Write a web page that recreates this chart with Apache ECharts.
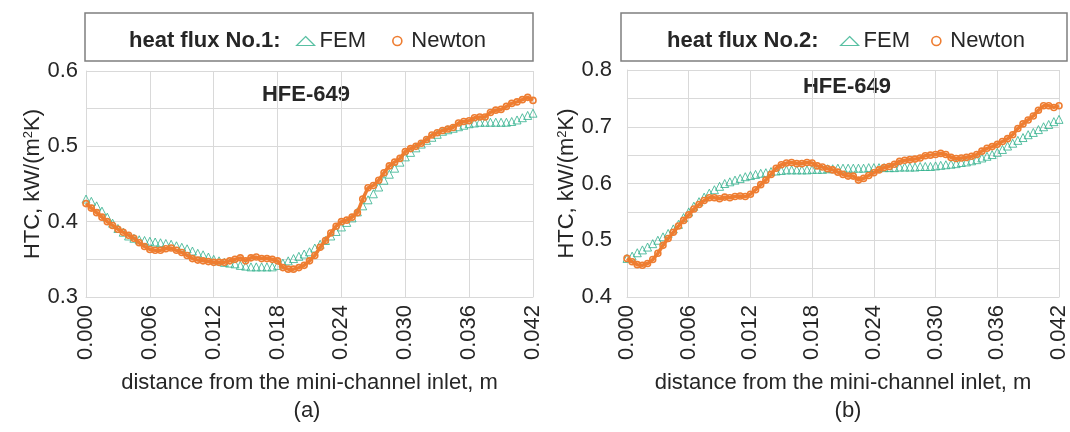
<!DOCTYPE html>
<html><head><meta charset="utf-8">
<script src="https://cdn.jsdelivr.net/npm/echarts@6/dist/echarts.min.js"></script>
<style>html,body{margin:0;padding:0;background:#fff}#c{width:1070px;height:432px}</style>
</head><body><div id="c"></div>
<script>
// sampling step along the channel (m)
const xStep = 0.0005;
const xTicks = { min: 0, max: 0.042, interval: 0.006 };
const categories = ['FEM', 'Newton'];
const panelLabels = ['(a)', '(b)'];
const legendTitles = ['heat flux No.1:', 'heat flux No.2:'];
const fluidLabel = 'HFE-649';

const fem1 = [0.430,0.427,0.421,0.414,0.406,0.398,0.391,0.386,0.381,0.378,
0.376,0.375,0.374,0.373,0.372,0.371,0.370,0.368,0.366,0.364,
0.361,0.358,0.356,0.353,0.350,0.348,0.346,0.345,0.344,0.342,
0.341,0.340,0.340,0.340,0.340,0.340,0.342,0.345,0.348,0.351,
0.354,0.357,0.360,0.365,0.370,0.375,0.381,0.387,0.393,0.399,
0.405,0.413,0.421,0.429,0.437,0.446,0.455,0.463,0.471,0.479,
0.486,0.492,0.498,0.503,0.508,0.512,0.516,0.520,0.522,0.524,
0.526,0.528,0.530,0.531,0.532,0.532,0.532,0.532,0.532,0.532,
0.533,0.535,0.538,0.541,0.544];
const newton1 = [0.424,0.418,0.412,0.406,0.400,0.395,0.390,0.386,0.382,0.378,
0.372,0.367,0.363,0.362,0.362,0.364,0.365,0.362,0.359,0.355,
0.351,0.349,0.348,0.347,0.346,0.346,0.346,0.348,0.350,0.352,
0.348,0.352,0.353,0.351,0.351,0.350,0.348,0.339,0.337,0.337,
0.339,0.342,0.348,0.355,0.366,0.375,0.385,0.394,0.400,0.402,
0.406,0.412,0.430,0.445,0.448,0.455,0.465,0.474,0.479,0.484,
0.493,0.497,0.500,0.504,0.509,0.515,0.518,0.521,0.523,0.525,
0.531,0.533,0.534,0.538,0.539,0.539,0.545,0.548,0.549,0.553,
0.557,0.559,0.562,0.565,0.561];
const fem2 = [0.468,0.472,0.478,0.483,0.488,0.494,0.500,0.506,0.512,0.520,
0.528,0.540,0.550,0.560,0.568,0.576,0.583,0.589,0.595,0.600,
0.603,0.606,0.609,0.612,0.614,0.616,0.618,0.619,0.621,0.622,
0.623,0.624,0.624,0.624,0.624,0.624,0.625,0.625,0.625,0.626,
0.626,0.627,0.627,0.627,0.627,0.627,0.627,0.628,0.628,0.628,
0.628,0.628,0.628,0.629,0.629,0.629,0.629,0.630,0.630,0.630,
0.631,0.632,0.633,0.634,0.635,0.637,0.638,0.640,0.642,0.645,
0.648,0.651,0.655,0.660,0.666,0.671,0.676,0.681,0.686,0.690,
0.695,0.700,0.704,0.709,0.713];
const newton2 = [0.468,0.462,0.457,0.456,0.459,0.466,0.477,0.491,0.503,0.514,
0.525,0.535,0.545,0.555,0.563,0.570,0.575,0.575,0.573,0.576,
0.575,0.577,0.578,0.577,0.581,0.589,0.598,0.606,0.616,0.627,
0.633,0.636,0.637,0.635,0.635,0.637,0.636,0.631,0.629,0.626,
0.624,0.620,0.616,0.613,0.613,0.606,0.609,0.614,0.619,0.624,
0.628,0.630,0.634,0.639,0.641,0.642,0.643,0.645,0.649,0.650,
0.651,0.653,0.651,0.646,0.644,0.645,0.646,0.648,0.651,0.657,
0.662,0.665,0.669,0.674,0.679,0.686,0.697,0.705,0.712,0.719,
0.729,0.737,0.737,0.734,0.737];
const yRange1 = { min: 0.3, max: 0.6, interval: 0.05 };
const yRange2 = { min: 0.4, max: 0.8, interval: 0.05 };

const FONT = '"Liberation Sans", Arial, sans-serif';
const FS = 22;
const TXT = '#262626';
const GRID = '#d9d9d9';
const GREEN = '#2fb08c';
const ORANGE = '#ee7d31';

function pairs(arr) { return arr.map((v, i) => [+(i * xStep).toFixed(4), v]); }
function yFmt(v) { return Math.abs(v * 10 - Math.round(v * 10)) < 1e-6 ? v.toFixed(1) : ''; }

const chart = echarts.init(document.getElementById('c'), null, { renderer: 'canvas' });

function xAxis(gi) {
  return {
    type: 'value', gridIndex: gi, min: xTicks.min, max: xTicks.max, interval: xTicks.interval,
    axisLine: { show: true, lineStyle: { color: GRID, width: 1 } },
    axisTick: { show: false },
    splitLine: { show: true, lineStyle: { color: GRID, width: 1 } },
    axisLabel: { rotate: 90, margin: 8, formatter: v => v.toFixed(3), fontSize: FS, color: TXT, fontFamily: FONT },
    name: 'distance from the mini-channel inlet, m', nameLocation: 'middle', nameGap: 75,
    nameTextStyle: { fontSize: FS, color: TXT, fontFamily: FONT }
  };
}
function yAxis(gi, r, gap, margin) {
  return {
    type: 'value', gridIndex: gi, min: r.min, max: r.max, interval: r.interval,
    axisLine: { show: true, lineStyle: { color: GRID, width: 1 } },
    axisTick: { show: false },
    splitLine: { show: true, lineStyle: { color: GRID, width: 1 } },
    axisLabel: { margin: margin, formatter: yFmt, fontSize: FS, color: TXT, fontFamily: FONT },
    name: 'HTC, kW/(m{s|2}K)', nameLocation: 'middle', nameGap: gap,
    nameTextStyle: { fontSize: FS, color: TXT, fontFamily: FONT,
      rich: { s: { fontSize: 13, color: TXT, fontFamily: FONT, verticalAlign: 'top', lineHeight: 22 } } }
  };
}
function femSeries(gi, data) {
  return { name: 'FEM', type: 'scatter', xAxisIndex: gi, yAxisIndex: gi, data: pairs(data),
    symbol: 'triangle', symbolSize: 8, z: 2,
    itemStyle: { color: 'rgba(0,0,0,0)', borderColor: GREEN, borderWidth: 1 } };
}
function newtonSeries(gi, data) {
  return { name: 'Newton', type: 'line', xAxisIndex: gi, yAxisIndex: gi, data: pairs(data),
    symbol: 'circle', symbolSize: 6, showSymbol: true, z: 3,
    itemStyle: { color: 'rgba(255,255,255,0)', borderColor: ORANGE, borderWidth: 1.6 },
    lineStyle: { color: ORANGE, width: 3.5 } };
}
function legend(left, gap) {
  return { left: left, top: 30, padding: 0, itemWidth: 18, itemHeight: 9, itemGap: gap,
    selectedMode: false,
    textStyle: { fontSize: FS, color: TXT, fontFamily: FONT },
    data: [
      { name: categories[0], icon: 'triangle', itemStyle: { color: 'rgba(0,0,0,0)', borderColor: GREEN, borderWidth: 1.2 } },
      { name: categories[1], icon: 'circle', itemStyle: { color: 'rgba(0,0,0,0)', borderColor: ORANGE, borderWidth: 1.6 } }
    ] };
}
function txt(text, x, y, font, align) {
  return { type: 'text', x: x, y: y, silent: true,
    style: { text: text, font: font, fill: TXT, align: align, verticalAlign: 'middle',
      textAlign: align, textVerticalAlign: 'middle' } };
}

chart.setOption({
  animation: false,
  backgroundColor: '#fff',
  grid: [
    { left: 86, top: 71, width: 447, height: 226 },
    { left: 627, top: 70, width: 440, height: 227 }
  ],
  xAxis: [xAxis(0), xAxis(1)],
  yAxis: [yAxis(0, yRange1, 38, 8), yAxis(1, yRange2, 49, 15)],
  legend: [legend(296, 26), legend(840, 21)],
  series: [femSeries(0, fem1), newtonSeries(0, newton1), femSeries(1, fem2), newtonSeries(1, newton2)],
  graphic: [
    { type: 'rect', silent: true, shape: { x: 85, y: 13, width: 448, height: 48 },
      style: { fill: 'none', stroke: '#7f7f7f', lineWidth: 1.5 } },
    { type: 'rect', silent: true, shape: { x: 621, y: 13, width: 446, height: 48 },
      style: { fill: 'none', stroke: '#7f7f7f', lineWidth: 1.5 } },
    txt(legendTitles[0], 129, 41, 'bold 22px ' + FONT, 'left'),
    txt(legendTitles[1], 667, 41, 'bold 22px ' + FONT, 'left'),
    txt(fluidLabel, 306, 95, 'bold 22px ' + FONT, 'center'),
    txt(fluidLabel, 847, 87, 'bold 22px ' + FONT, 'center'),
    txt(panelLabels[0], 307, 411, '22px ' + FONT, 'center'),
    txt(panelLabels[1], 848, 411, '22px ' + FONT, 'center')
  ]
});
</script></body></html>
